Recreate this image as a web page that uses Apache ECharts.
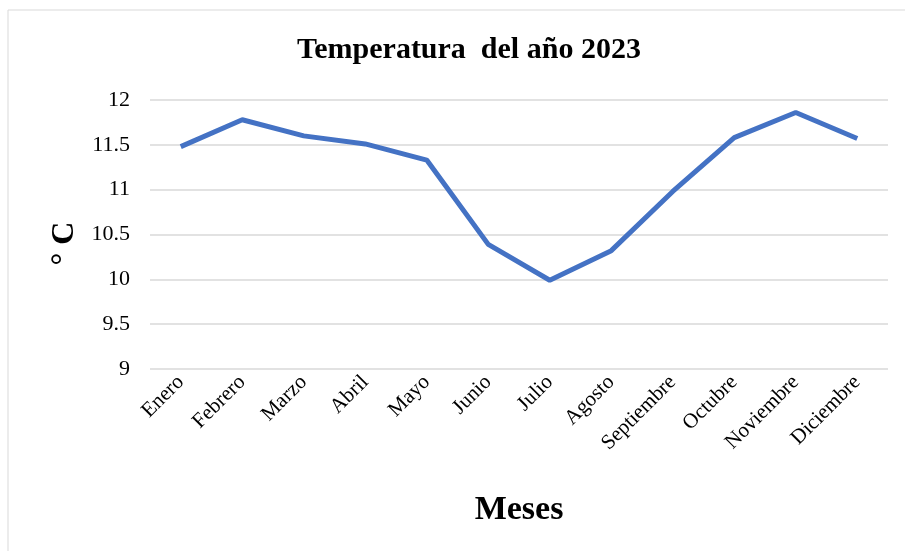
<!DOCTYPE html>
<html>
<head>
<meta charset="utf-8">
<script src="https://cdn.jsdelivr.net/npm/echarts@6/dist/echarts.min.js"></script>
<style>
  html, body { margin: 0; padding: 0; background: #fff; }
  #chart { width: 905px; height: 551px; }
</style>
</head>
<body>
<div id="chart"></div>
<script>
// datos
const meses = ['Enero', 'Febrero', 'Marzo', 'Abril', 'Mayo', 'Junio', 'Julio',
  'Agosto', 'Septiembre', 'Octubre', 'Noviembre', 'Diciembre'];
const temperaturas = [11.48, 11.78, 11.60, 11.51, 11.33, 10.39, 9.99, 10.32, 10.98, 11.58, 11.86, 11.57];
const yMin = 9;
const yMax = 12;
const yPaso = 0.5;

const serif = '"Liberation Serif", "DejaVu Serif", serif';

let myChart = echarts.init(document.getElementById('chart'));
myChart.setOption({
  backgroundColor: '#fff',
  animation: false,
  title: {
    text: 'Temperatura  del año 2023',
    left: 292,
    top: 30,
    textStyle: { fontFamily: serif, fontWeight: 'bold', fontSize: 30, color: '#000' }
  },
  grid: { left: 150, right: 17, top: 100, bottom: 182 },
  graphic: [{
    type: 'rect',
    shape: { x: 8, y: 10, width: 905, height: 560 },
    style: { fill: 'none', stroke: '#d9d9d9', lineWidth: 1 },
    silent: true
  }],
  xAxis: {
    type: 'category',
    data: meses,
    boundaryGap: true,
    name: 'Meses',
    nameLocation: 'middle',
    nameGap: 124,
    nameTextStyle: { fontFamily: serif, fontWeight: 'bold', fontSize: 34, color: '#000' },
    axisLine: { show: false },
    axisTick: { show: false },
    axisLabel: {
      rotate: 45,
      interval: 0,
      margin: 10,
      fontFamily: serif,
      fontSize: 21,
      color: '#000'
    }
  },
  yAxis: {
    type: 'value',
    min: yMin,
    max: yMax,
    interval: yPaso,
    name: '° C',
    nameLocation: 'middle',
    nameGap: 66,
    nameRotate: 90,
    nameTextStyle: { fontFamily: serif, fontWeight: 'bold', fontSize: 32, color: '#000', padding: [0, 18, 0, 0] },
    axisLine: { show: false },
    axisTick: { show: false },
    axisLabel: { margin: 20, fontFamily: serif, fontSize: 22, color: '#000' },
    splitLine: { lineStyle: { color: '#d9d9d9', width: 1.5 } }
  },
  series: [{
    type: 'line',
    data: temperaturas,
    symbol: 'none',
    lineStyle: { color: '#4472c4', width: 5 },
    itemStyle: { color: '#4472c4' }
  }]
});
</script>
</body>
</html>
